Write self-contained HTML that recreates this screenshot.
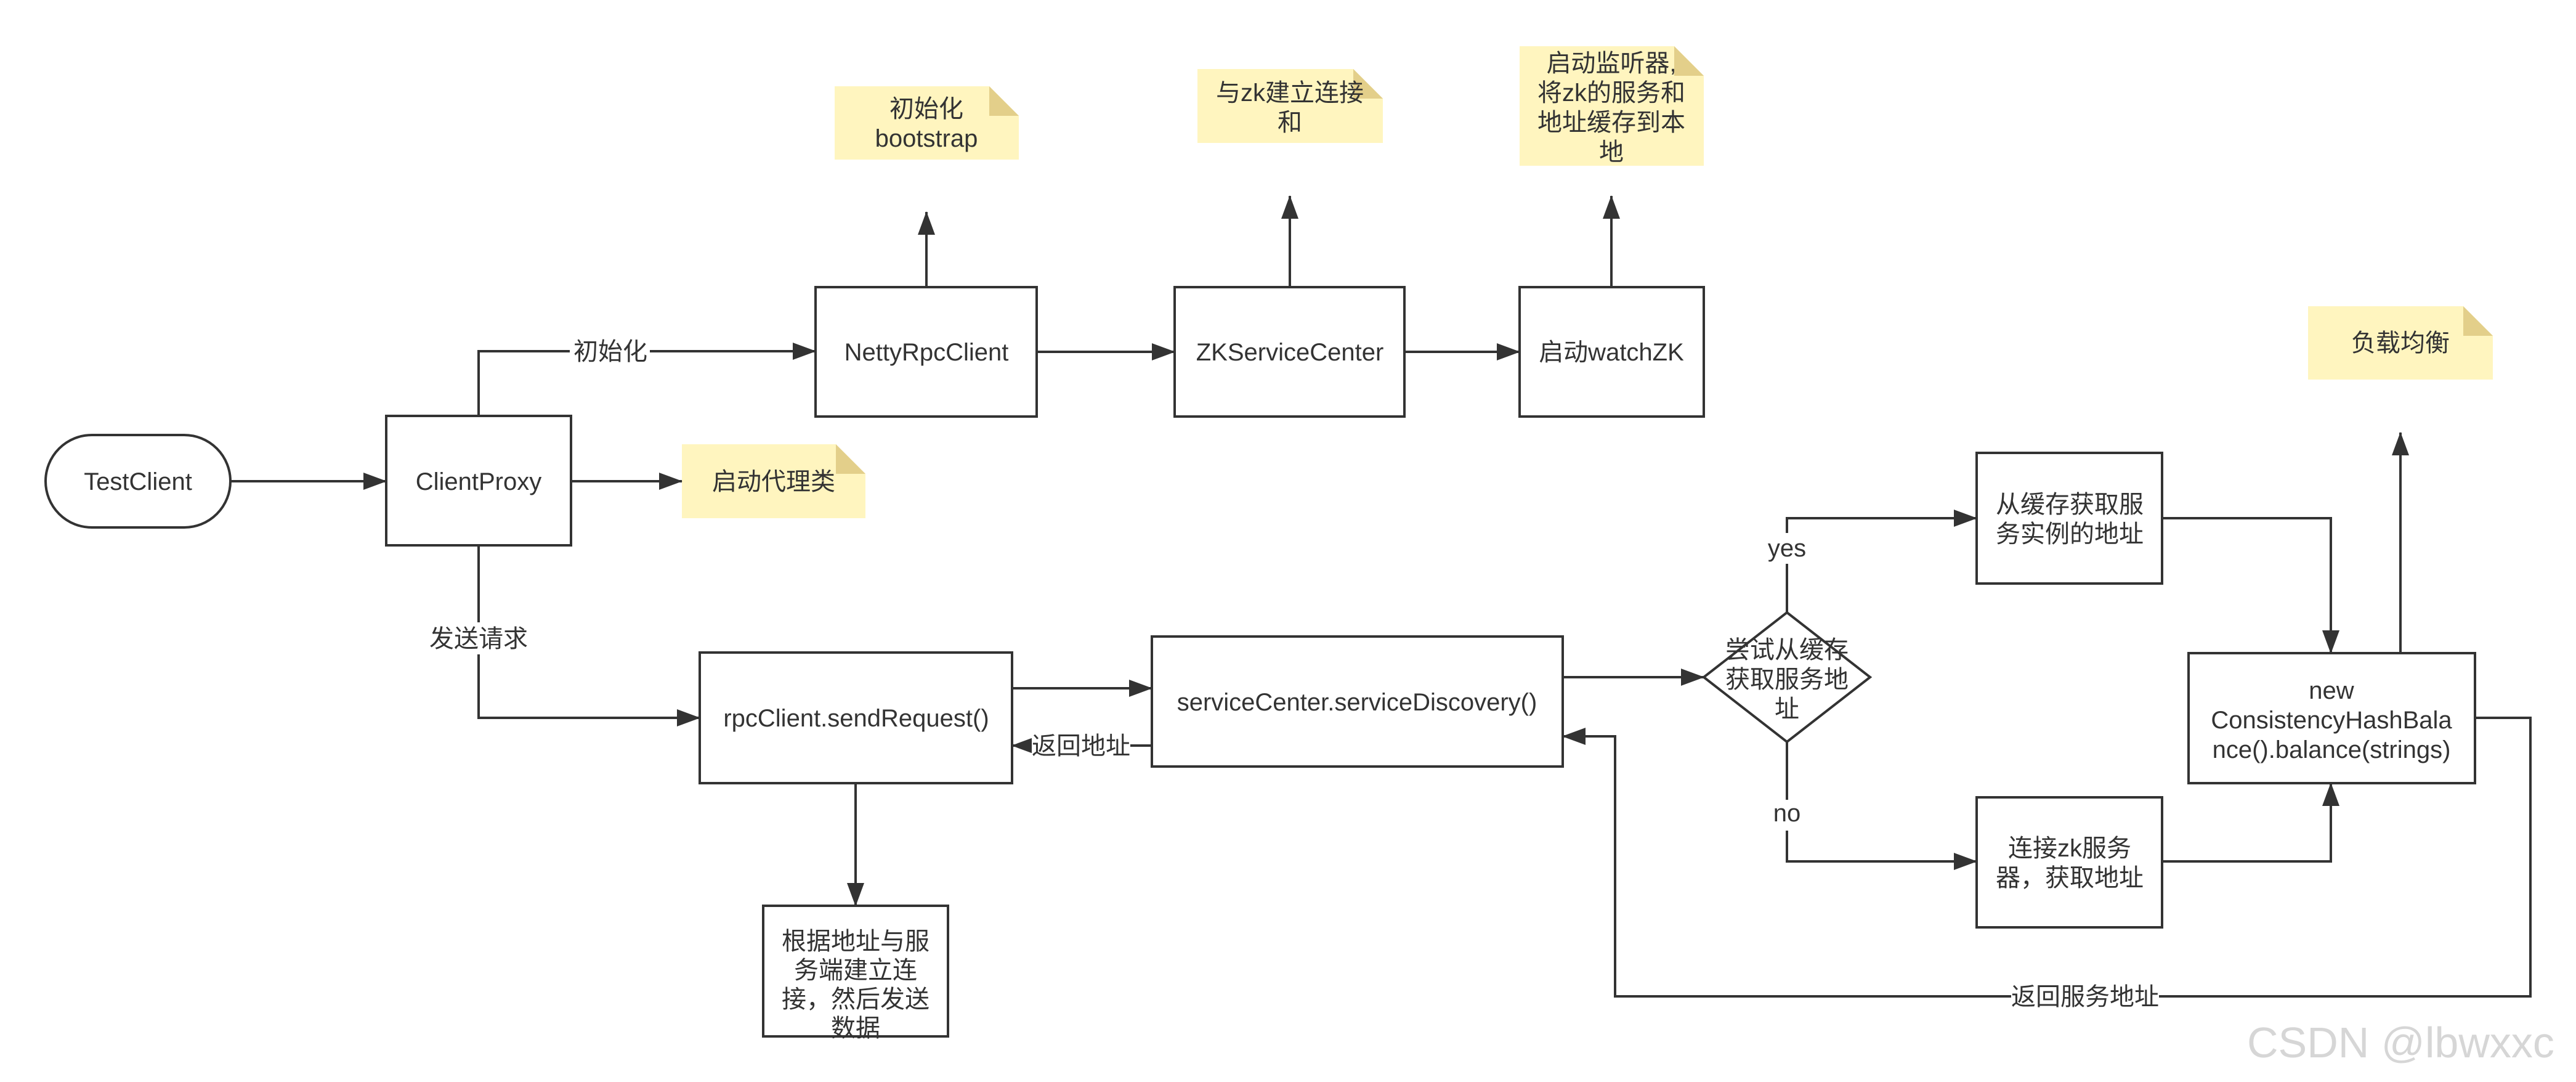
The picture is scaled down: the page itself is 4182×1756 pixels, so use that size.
<!DOCTYPE html>
<html><head><meta charset="utf-8"><style>
html,body{margin:0;padding:0;background:#fff;}
svg{display:block;}
text{font-family:"Liberation Sans","Noto Sans CJK SC",sans-serif;font-size:40px;fill:#333;}
</style></head><body>
<svg width="4182" height="1756" viewBox="0 0 4182 1756" xmlns="http://www.w3.org/2000/svg">
<defs>
<marker id="a" markerWidth="38" markerHeight="28" refX="37" refY="14" orient="auto" markerUnits="userSpaceOnUse">
<path d="M0,0 L38,14 L0,28 Z" fill="#333"/>
</marker>
</defs>
<rect width="4182" height="1756" fill="#fff"/>

<!-- notes -->
<g>
<path d="M1355,140 H1606 L1654,188 V259 H1355 Z" fill="#fff5bf"/><path d="M1606,140 L1654,188 H1606 Z" fill="#e3cf8a"/>
<path d="M1944,112 H2197 L2245,160 V232 H1944 Z" fill="#fff5bf"/><path d="M2197,112 L2245,160 H2197 Z" fill="#e3cf8a"/>
<path d="M2467,75 H2718 L2766,123 V269 H2467 Z" fill="#fff5bf"/><path d="M2718,75 L2766,123 H2718 Z" fill="#e3cf8a"/>
<path d="M3747,497 H3999 L4047,545 V616 H3747 Z" fill="#fff5bf"/><path d="M3999,497 L4047,545 H3999 Z" fill="#e3cf8a"/>
<path d="M1107,721 H1357 L1405,769 V841 H1107 Z" fill="#fff5bf"/><path d="M1357,721 L1405,769 H1357 Z" fill="#e3cf8a"/>
</g>
<g text-anchor="middle">
<text x="1504" y="190">初始化</text><text x="1504" y="238">bootstrap</text>
<text x="2094" y="164">与zk建立连接</text><text x="2094" y="212">和</text>
<text x="2616" y="116">启动监听器,</text><text x="2616" y="164">将zk的服务和</text><text x="2616" y="212">地址缓存到本</text><text x="2616" y="260">地</text>
<text x="3897" y="570">负载均衡</text>
<text x="1256" y="795">启动代理类</text>
</g>

<!-- shapes -->
<g fill="#fff" stroke="#333" stroke-width="4">
<rect x="74" y="706" width="300" height="150" rx="75" ry="75"/>
<rect x="627" y="675" width="300" height="210"/>
<rect x="1324" y="466" width="359" height="210"/>
<rect x="1907" y="466" width="373" height="210"/>
<rect x="2467" y="466" width="299" height="210"/>
<rect x="1136" y="1059" width="507" height="212"/>
<rect x="1870" y="1033" width="667" height="211"/>
<rect x="1239" y="1470" width="300" height="212"/>
<path d="M2901,994 L3036,1099 L2901,1204 L2766,1099 Z"/>
<rect x="3209" y="735" width="301" height="212"/>
<rect x="3209" y="1294" width="301" height="211"/>
<rect x="3553" y="1060" width="465" height="211"/>
</g>
<g text-anchor="middle">
<text x="224" y="795">TestClient</text>
<text x="777" y="795">ClientProxy</text>
<text x="1504" y="585">NettyRpcClient</text>
<text x="2094" y="585">ZKServiceCenter</text>
<text x="2616" y="585">启动watchZK</text>
<text x="1390" y="1179">rpcClient.sendRequest()</text>
<text x="2203" y="1153">serviceCenter.serviceDiscovery()</text>
<text x="1389" y="1541">根据地址与服</text><text x="1389" y="1588">务端建立连</text><text x="1389" y="1635">接，然后发送</text><text x="1389" y="1682">数据</text>
<text x="2901" y="1068">尝试从缓存</text><text x="2901" y="1116">获取服务地</text><text x="2901" y="1164">址</text>
<text x="3360" y="832">从缓存获取服</text><text x="3360" y="880">务实例的地址</text>
<text x="3360" y="1390">连接zk服务</text><text x="3360" y="1438">器，获取地址</text>
<text x="3785" y="1134">new</text><text x="3785" y="1182">ConsistencyHashBala</text><text x="3785" y="1230">nce().balance(strings)</text>
</g>

<!-- connectors -->
<g fill="none" stroke="#333" stroke-width="4">
<path d="M374,781 H627" marker-end="url(#a)"/>
<path d="M927,781 H1107" marker-end="url(#a)"/>
<path d="M777,675 V570 H1324" marker-end="url(#a)"/>
<path d="M777,885 V1165 H1136" marker-end="url(#a)"/>
<path d="M1683,571 H1907" marker-end="url(#a)"/>
<path d="M2280,571 H2467" marker-end="url(#a)"/>
<path d="M1504,466 V344" marker-end="url(#a)"/>
<path d="M2094,466 V318" marker-end="url(#a)"/>
<path d="M2616,466 V318" marker-end="url(#a)"/>
<path d="M1643,1117 H1870" marker-end="url(#a)"/>
<path d="M1870,1210 H1643" marker-end="url(#a)"/>
<path d="M1389,1271 V1470" marker-end="url(#a)"/>
<path d="M2537,1099 H2766" marker-end="url(#a)"/>
<path d="M2901,994 V841 H3209" marker-end="url(#a)"/>
<path d="M2901,1204 V1398 H3209" marker-end="url(#a)"/>
<path d="M3510,841 H3784 V1060" marker-end="url(#a)"/>
<path d="M3510,1398 H3784 V1271" marker-end="url(#a)"/>
<path d="M3897,1060 V702" marker-end="url(#a)"/>
<path d="M4018,1165 H4108 V1617 H2622 V1195 H2537" marker-end="url(#a)"/>
</g>
<!-- labels on connectors -->
<g text-anchor="middle">
<rect x="925" y="545" width="130" height="50" fill="#fff"/><text x="991" y="584">初始化</text>
<rect x="690" y="1010" width="174" height="52" fill="#fff"/><text x="777" y="1050">发送请求</text>
<rect x="1675" y="1185" width="160" height="50" fill="#fff"/><text x="1755" y="1224">返回地址</text>
<rect x="2860" y="865" width="82" height="50" fill="#fff"/><text x="2901" y="903">yes</text>
<rect x="2870" y="1298" width="62" height="50" fill="#fff"/><text x="2901" y="1333">no</text>
<rect x="3265" y="1592" width="240" height="50" fill="#fff"/><text x="3385" y="1631">返回服务地址</text>
</g>
<text x="3648" y="1716" style="font-size:70px;fill:#d6d6d6;">CSDN @lbwxxc</text>
</svg>
</body></html>
